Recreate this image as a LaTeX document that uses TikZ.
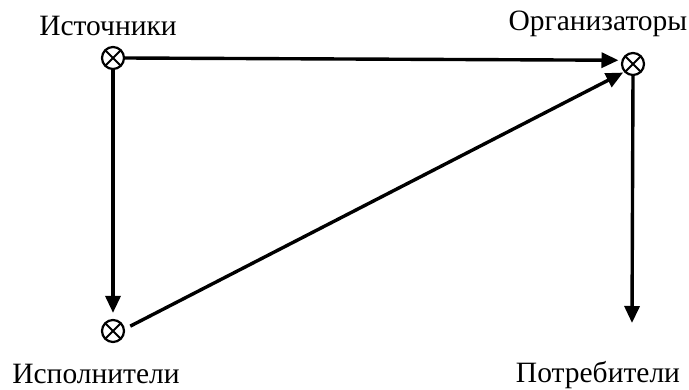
\documentclass[tikz,border=0pt]{standalone}
\usepackage{fontspec}
\setmainfont{Liberation Serif}
\usetikzlibrary{arrows.meta}
\begin{document}
\begin{tikzpicture}[x=1pt,y=1pt,
  otimes/.style={circle,draw,line width=2.2pt,minimum size=22pt,inner sep=0pt,
    path picture={\draw[line width=2pt] (path picture bounding box.south west) -- (path picture bounding box.north east)
      (path picture bounding box.north west) -- (path picture bounding box.south east);}},
  lbl/.style={font=\fontsize{29.5}{34}\selectfont,inner sep=0pt},
  conn/.style={line width=3.4pt,-{Triangle[length=17pt,width=15pt]}}]
\useasboundingbox (0,0) rectangle (689,389);
\node[otimes] (src) at (113,331) {};
\node[otimes] (org) at (633,325) {};
\node[otimes] (exe) at (113,58) {};
\coordinate (cons) at (632,66);
\node[lbl,anchor=base] (lsrc) at (108,353) {Источники};
\node[lbl,anchor=base] (lorg) at (598,358) {Организаторы};
\node[lbl,anchor=base] (lexe) at (96,6) {Исполнители};
\node[lbl,anchor=base] (lcons) at (598,7) {Потребители};
\draw[conn,shorten >=3pt] (src.east) -- (org.162);
\draw[conn,shorten >=6pt] (src.south) -- (exe.north);
\draw[conn,shorten <=6pt,shorten >=1pt] (exe.10) -- (org.222);
\draw[conn] (org.south) -- (cons);
\end{tikzpicture}
\end{document}
